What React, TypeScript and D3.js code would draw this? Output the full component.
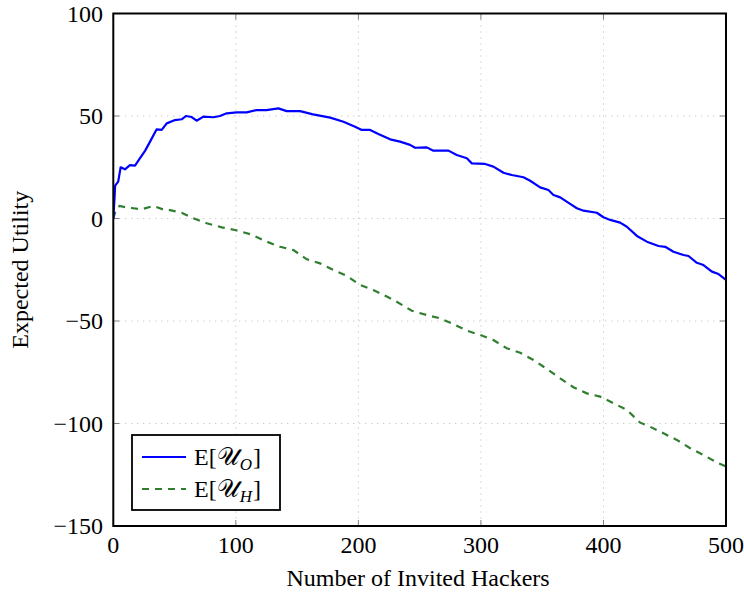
import React from "react";
import * as d3 from "d3";

const blueX = [0,1,1.5,4,6,9.5,13.6,17.7,21.8,25.9,30,35.4,39.5,43.6,50.4,55.8,59.3,64,68,73.5,81.6,87,92.6,100.7,108.9,117,125,134.7,141.5,152.4,163,177,187.8,197.3,202.8,209.6,216.3,225.9,234,242.2,246.3,255.8,261.2,273.5,280.3,288.5,292.6,303.4,310.2,318.4,325.2,334.7,340.2,348.3,355.1,359.2,364.7,372.8,378.3,383.7,394.6,400,405.5,413.6,419.1,427.3,435.4,444.9,450.4,457.1,465.3,469.4,476.2,481.6,488.5,493.9,500];
const blueY = [0,10,16,18,25,24,26,25.8,29.4,33,37.5,43.5,43.2,46.4,48,48.4,50,49.5,47.7,49.7,49.4,50,51.3,51.8,51.8,52.9,52.9,53.7,52.4,52.4,50.8,49.2,47.2,44.8,43.2,43.2,41.2,38.6,37.5,35.9,34.5,34.7,33.1,33.1,31,29.4,26.9,26.6,25.3,22.3,21.2,20.1,18.4,15.2,13.9,11.5,10.3,7.1,5.0,3.8,2.8,0.6,-0.7,-2.0,-4.0,-8.5,-11.3,-13.4,-13.8,-16.2,-17.8,-18.3,-21.6,-22.7,-25.9,-27.1,-30];

const greenX = [0,2,5,10,16.3,23.2,32.7,42.2,46.3,55.8,65.3,76.2,88.5,99.3,111.6,125.2,136.1,147,157.9,168.7,179.6,190.5,201.4,212.2,223.2,231.3,243.6,255.8,266.7,277.6,288.5,299.3,310.2,321.1,332,342.9,353.8,364.7,375.5,386.4,397.3,408.2,419.1,430,438.1,449,459.9,470.8,481.6,493.9,500];
const greenY = [0,4,6.1,5.5,5.0,4.5,6.1,4.1,4.1,2.8,0.1,-2.3,-4.3,-5.6,-7.6,-11.3,-13.8,-15.4,-19.9,-21.9,-25.1,-28,-32.4,-34.9,-38.1,-40.6,-45,-47.1,-48.7,-51.5,-54.7,-56.8,-59.3,-63.3,-65.5,-69,-73.4,-78,-82.3,-85.3,-86.9,-90.1,-93.4,-99.6,-101.6,-104.8,-108,-112.1,-115.4,-119.4,-121];

const xTicks = [0, 100, 200, 300, 400, 500];
const yTicks = [100, 50, 0, -50, -100, -150];
const xLabel = "Number of Invited Hackers";
const yLabel = "Expected Utility";
const seriesNames = ["O", "H"];

const W = 744, H = 592;
const L = 113.3, R = 726, T = 13.5, B = 526;
const BLUE = "#0000ff";
const GREEN = "#2f7f2f";

export default function App() {
  const x = d3.scaleLinear().domain([0, 500]).range([L, R]);
  const y = d3.scaleLinear().domain([-150, 100]).range([B, T]);
  const line = d3.line<[number, number]>().x(d => x(d[0])).y(d => y(d[1]));
  const blue = blueX.map((v, i) => [v, blueY[i]] as [number, number]);
  const green = greenX.map((v, i) => [v, greenY[i]] as [number, number]);
  const serif = "'Liberation Serif', 'Times New Roman', serif";
  const gridX = xTicks.filter(t => t > 0 && t < 500);
  const gridY = yTicks.filter(t => t > -150 && t < 100);

  return (
    <svg width={W} height={H} style={{ position: "absolute", left: 0, top: 0, background: "#fff" }} fontFamily={serif}>
      <rect x={0} y={0} width={W} height={H} fill="#fff" />
      <defs>
        <clipPath id="plotclip">
          <rect x={L} y={T} width={R - L} height={B - T} />
        </clipPath>
      </defs>
      {gridX.map(t => (
        <line key={"gx" + t} x1={x(t)} x2={x(t)} y1={T} y2={B} stroke="#b8b8b8" strokeWidth={1} strokeDasharray="1,5" />
      ))}
      {gridY.map(t => (
        <line key={"gy" + t} x1={L} x2={R} y1={y(t)} y2={y(t)} stroke="#b8b8b8" strokeWidth={1} strokeDasharray="1,5" />
      ))}
      {xTicks.map(t => (
        <g key={"tx" + t}>
          <line x1={x(t)} x2={x(t)} y1={B} y2={B - 6} stroke="#808080" strokeWidth={1} />
          <line x1={x(t)} x2={x(t)} y1={T} y2={T + 6} stroke="#808080" strokeWidth={1} />
        </g>
      ))}
      {yTicks.map(t => (
        <g key={"ty" + t}>
          <line x1={L} x2={L + 6} y1={y(t)} y2={y(t)} stroke="#808080" strokeWidth={1} />
          <line x1={R} x2={R - 6} y1={y(t)} y2={y(t)} stroke="#808080" strokeWidth={1} />
        </g>
      ))}
      <g clipPath="url(#plotclip)">
        <path d={line(green) || ""} fill="none" stroke={GREEN} strokeWidth={2.2} strokeDasharray="7,6" />
        <path d={line(blue) || ""} fill="none" stroke={BLUE} strokeWidth={2.2} strokeLinejoin="round" />
      </g>
      <rect x={L} y={T} width={R - L} height={B - T} fill="none" stroke="#000" strokeWidth={2} />
      {xTicks.map(t => (
        <text key={"lx" + t} x={x(t)} y={553} textAnchor="middle" fontSize={24} fill="#000">{t}</text>
      ))}
      {yTicks.map(t => (
        <text key={"ly" + t} x={103} y={y(t) + 8} textAnchor="end" fontSize={24} fill="#000">{t < 0 ? "\u2212" + Math.abs(t) : t}</text>
      ))}
      <text x={418} y={586} textAnchor="middle" fontSize={24} fill="#000">{xLabel}</text>
      <text transform={`translate(28,${(T + B) / 2}) rotate(-90)`} textAnchor="middle" fontSize={24} fill="#000">{yLabel}</text>
      <rect x={132} y={435} width={148} height={75} fill="#fff" stroke="#000" strokeWidth={1.8} />
      <line x1={142} x2={186} y1={457} y2={457} stroke={BLUE} strokeWidth={2} />
      <line x1={142} x2={186} y1={489} y2={489} stroke={GREEN} strokeWidth={2} strokeDasharray="7,6" />
      {seriesNames.map((s, i) => (
        <text key={s} x={194} y={465 + i * 32} fontSize={24} fill="#000">
          E[<tspan fontFamily="'DejaVu Sans', serif" fontSize={25}>𝒰</tspan>
          <tspan fontStyle="italic" fontSize={17} dy={5}>{s}</tspan>
          <tspan dy={-5} dx={1}>]</tspan>
        </text>
      ))}
    </svg>
  );
}
